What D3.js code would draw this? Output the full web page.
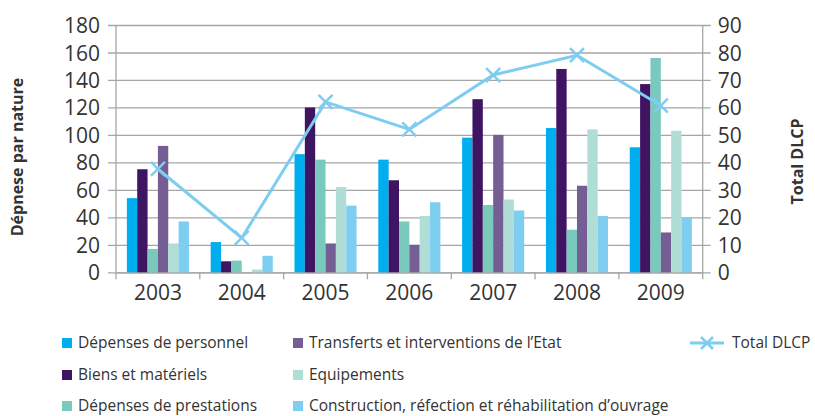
<!DOCTYPE html>
<html>
<head>
<meta charset="utf-8">
<script src="https://cdn.jsdelivr.net/npm/d3@7"></script>
<style>
  body { margin: 0; background: #fff; }
  text { font-family: "Open Sans", sans-serif; fill: #333; }
</style>
</head>
<body>
<svg id="chart"></svg>
<script>
// Data
const years = ["2003", "2004", "2005", "2006", "2007", "2008", "2009"];
const seriesNames = [
  "Dépenses de personnel",
  "Biens et matériels",
  "Dépenses de prestations",
  "Transferts et interventions de l\u2019Etat",
  "Equipements",
  "Construction, réfection et réhabilitation d\u2019ouvrage"
];
const personnel = [54, 22, 86, 82, 98, 105, 91];
const biens = [75, 8, 120, 67, 126, 148, 137];
const prestations = [17, 8.5, 82, 37, 49, 31, 156];
const transferts = [92, 0, 21, 20, 100, 63, 29];
const equipements = [21, 2, 62, 41, 53, 104, 103];
const construction = [37, 12, 48.5, 51, 45, 41, 40];
const totalDLCP = [37.6, 12.5, 62, 52, 71.8, 79, 60.7];
const leftTicks = [0, 20, 40, 60, 80, 100, 120, 140, 160, 180];
const rightTicks = [0, 10, 20, 30, 40, 50, 60, 70, 80, 90];

const seriesValues = [personnel, biens, prestations, transferts, equipements, construction];
const colors = ["#00aeef", "#3f1462", "#79c9bc", "#755e94", "#b0ddd6", "#7ecef2"];
const lineColor = "#7dcdf0";

// Set up the SVG container
const width = 815;
const height = 416;
const svg = d3.select("#chart").attr("width", width).attr("height", height);

const plotLeft = 116, plotRight = 702.7, plotTop = 25, plotBottom = 272.3;

const x0 = d3.scaleBand().domain(years).range([plotLeft, plotRight]).padding(0);
const x1 = d3.scaleBand().domain(seriesNames).range([0, x0.bandwidth()])
  .paddingInner(0).paddingOuter(1.05);
const yLeft = d3.scaleLinear().domain([0, 180]).range([plotBottom, plotTop]);
const yRight = d3.scaleLinear().domain([0, 90]).range([plotBottom, plotTop]);

// Gridlines (left axis ticks stretched across)
const gridColor = "#a6a6a6";
svg.append("g")
  .attr("transform", `translate(${plotLeft},0)`)
  .call(d3.axisLeft(yLeft).tickValues(leftTicks).tickSize(-(plotRight - plotLeft + 8)).tickPadding(10).tickSizeOuter(0))
  .call(g => g.select(".domain").remove())
  .call(g => g.selectAll(".tick line").attr("x1", -8).attr("stroke", gridColor).attr("stroke-width", 1.3))
  .call(g => g.selectAll(".tick text").attr("x", -16).attr("font-size", 21).attr("dy", "0.36em")
    .style("font-family", "'Open Sans', sans-serif").attr("fill", "#333"));

// Right axis labels
svg.append("g")
  .attr("transform", `translate(${plotRight},0)`)
  .call(d3.axisRight(yRight).tickValues(rightTicks).tickSize(0).tickPadding(15))
  .call(g => g.select(".domain").remove())
  .call(g => g.selectAll(".tick text").attr("font-size", 21).attr("dy", "0.36em")
    .style("font-family", "'Open Sans', sans-serif").attr("fill", "#333"));

// Vertical axis lines
svg.append("line").attr("x1", plotLeft).attr("x2", plotLeft).attr("y1", plotTop).attr("y2", plotBottom)
  .attr("stroke", gridColor).attr("stroke-width", 1.3);
svg.append("line").attr("x1", plotRight).attr("x2", plotRight).attr("y1", plotTop).attr("y2", plotBottom)
  .attr("stroke", gridColor).attr("stroke-width", 1.3);

// Bottom axis
svg.append("g").attr("transform", `translate(0,${plotBottom})`)
  .call(d3.axisBottom(x0).tickSize(0).tickPadding(20))
  .call(g => g.select(".domain").attr("stroke", gridColor).attr("stroke-width", 1.3))
  .call(g => g.selectAll(".tick text").attr("font-size", 21).attr("dy", "0.36em")
    .style("font-family", "'Open Sans', sans-serif").attr("fill", "#333"));

// Category boundary tick marks
const boundaries = years.map(y => x0(y)).concat([x0(years[years.length - 1]) + x0.bandwidth()]);
svg.append("g").selectAll("line").data(boundaries).enter().append("line")
  .attr("x1", d => d).attr("x2", d => d)
  .attr("y1", plotBottom).attr("y2", plotBottom + 7)
  .attr("stroke", gridColor).attr("stroke-width", 1.3);

// Bars
const groups = svg.append("g").selectAll("g").data(years).enter().append("g")
  .attr("transform", d => `translate(${x0(d)},0)`);
groups.selectAll("rect")
  .data((d, i) => seriesNames.map((s, j) => ({ name: s, value: seriesValues[j][i], color: colors[j] })))
  .enter().append("rect")
  .attr("x", d => x1(d.name))
  .attr("width", x1.bandwidth())
  .attr("y", d => yLeft(d.value))
  .attr("height", d => plotBottom - yLeft(d.value))
  .attr("fill", d => d.color);

// Total DLCP line
const lineGen = d3.line()
  .x((d, i) => x0(years[i]) + x0.bandwidth() / 2)
  .y(d => yRight(d));
svg.append("path").datum(totalDLCP)
  .attr("d", lineGen)
  .attr("fill", "none")
  .attr("stroke", lineColor)
  .attr("stroke-width", 3);

const m = 7;
svg.append("g").selectAll("path").data(totalDLCP).enter().append("path")
  .attr("transform", (d, i) => `translate(${x0(years[i]) + x0.bandwidth() / 2},${yRight(d)})`)
  .attr("d", `M${-m},${-m}L${m},${m}M${-m},${m}L${m},${-m}`)
  .attr("stroke", lineColor)
  .attr("stroke-width", 2.5)
  .attr("fill", "none");

// Axis titles
svg.append("text")
  .attr("transform", "translate(17,157) rotate(-90)")
  .attr("text-anchor", "middle").attr("dy", "0.36em")
  .attr("font-size", 16).attr("font-weight", "bold")
  .text("Dépnese par nature");
svg.append("text")
  .attr("transform", "translate(797.5,161.5) rotate(-90)")
  .attr("text-anchor", "middle").attr("dy", "0.36em")
  .attr("font-size", 16).attr("font-weight", "bold")
  .text("Total DLCP");

// Legend
const legendCols = [62, 293];
const legendRows = [343, 375, 406];
const legend = svg.append("g").selectAll("g").data(seriesNames).enter().append("g")
  .attr("transform", (d, i) => `translate(${legendCols[Math.floor(i / 3)]},${legendRows[i % 3]})`);
legend.append("rect")
  .attr("x", 0).attr("y", -5).attr("width", 10).attr("height", 10)
  .attr("fill", (d, i) => colors[i]);
legend.append("text")
  .attr("x", 16).attr("dy", "0.34em")
  .attr("font-size", 15.5)
  .text(d => d);

const lineLegend = svg.append("g").attr("transform", `translate(690,${legendRows[0]})`);
lineLegend.append("line").attr("x1", 0).attr("x2", 34).attr("y1", 0).attr("y2", 0)
  .attr("stroke", lineColor).attr("stroke-width", 3);
lineLegend.append("path")
  .attr("transform", "translate(17,0)")
  .attr("d", "M-6,-6L6,6M-6,6L6,-6")
  .attr("stroke", lineColor).attr("stroke-width", 2.5);
lineLegend.append("text")
  .attr("x", 42).attr("dy", "0.34em")
  .attr("font-size", 15.5)
  .text("Total DLCP");
</script>
</body>
</html>
